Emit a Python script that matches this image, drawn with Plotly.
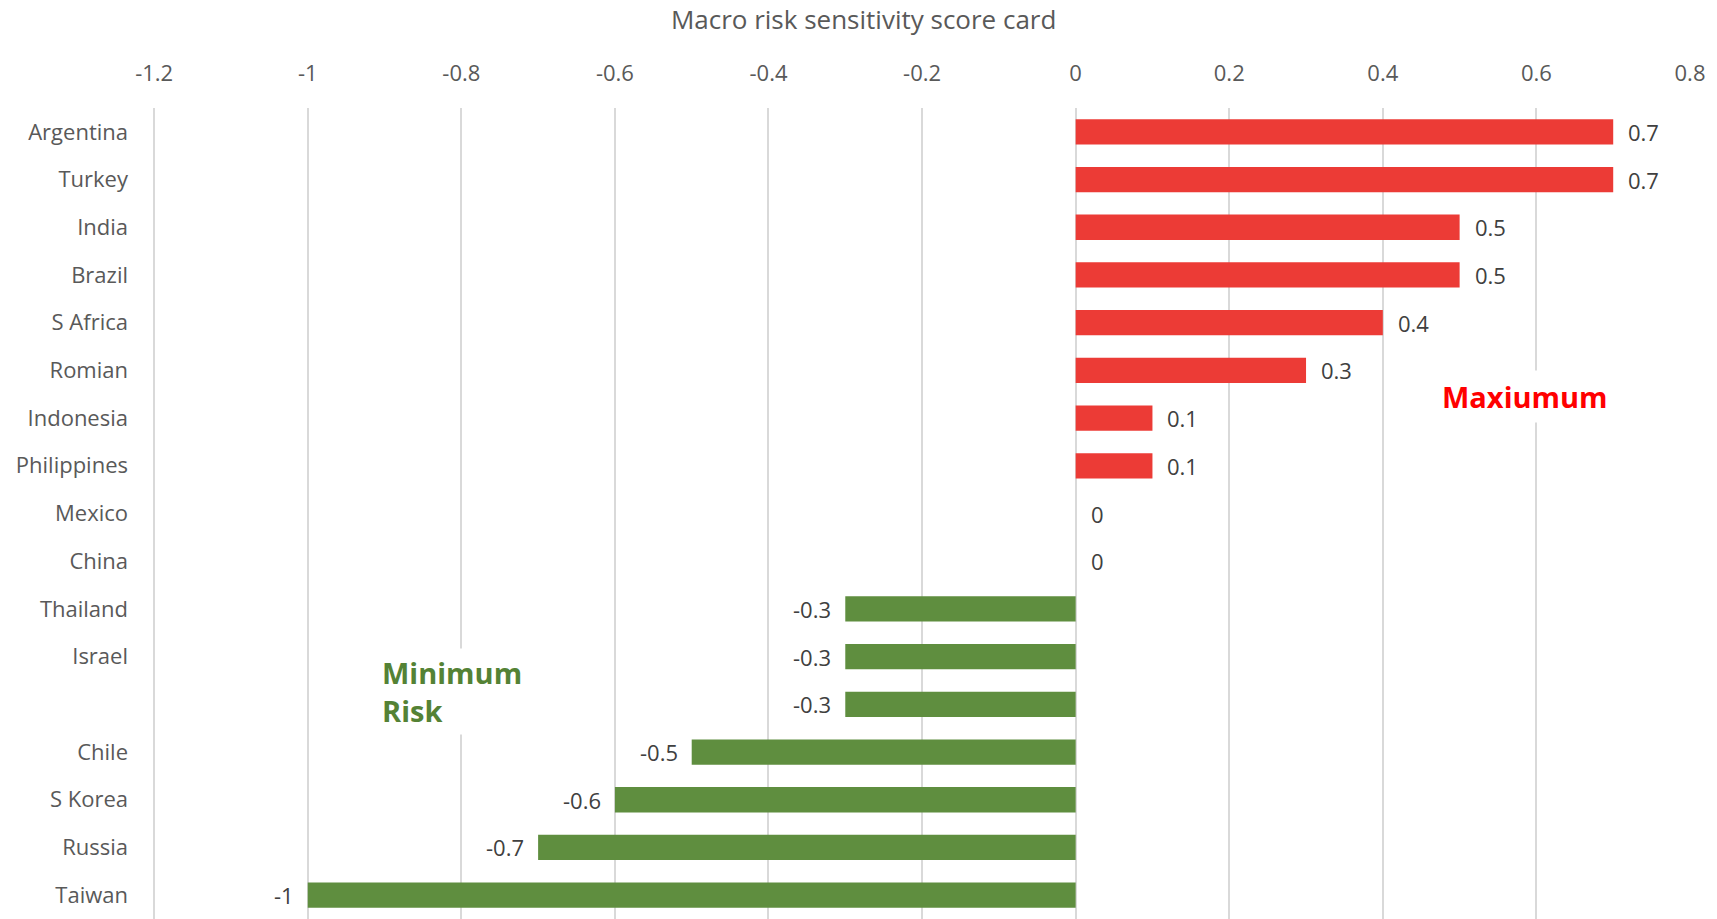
import plotly.graph_objects as go

# Scores per country, top to bottom
countries = ["Argentina", "Turkey", "India", "Brazil", "S Africa", "Romian",
             "Indonesia", "Philippines", "Mexico", "China", "Thailand", "Israel",
             " ", "Chile", "S Korea", "Russia", "Taiwan"]
scores = [0.7, 0.7, 0.5, 0.5, 0.4, 0.3, 0.1, 0.1, 0, 0, -0.3, -0.3, -0.3,
          -0.5, -0.6, -0.7, -1]
tick_vals = [-1.2, -1.0, -0.8, -0.6, -0.4, -0.2, 0, 0.2, 0.4, 0.6, 0.8]
tick_text = ["-1.2", "-1", "-0.8", "-0.6", "-0.4", "-0.2", "0", "0.2", "0.4", "0.6", "0.8"]

RED = "#EC3B36"
GREEN = "#5F8E3F"
FONT = "Open Sans"
GREY = "#595959"

bar_colors = [RED if v > 0 else GREEN for v in scores]

fig = go.Figure()
fig.add_trace(go.Bar(
    x=scores, y=countries, orientation="h",
    marker=dict(color=bar_colors, line=dict(width=0)),
    hoverinfo="x+y",
))

# value labels beside each bar end
for c, v in zip(countries, scores):
    fig.add_annotation(
        x=v, y=c, xref="x", yref="y",
        text=f"{v:g}", showarrow=False,
        xanchor="right" if v < 0 else "left",
        xshift=-12 if v < 0 else 13,
        font=dict(family=FONT, size=22, color="#404040"),
    )

fig.add_annotation(
    x=0.585, y="Romian", xref="x", yref="y", yshift=-26,
    text="<b>Maxiumum</b>", showarrow=False,
    xanchor="center", yanchor="middle",
    bgcolor="white", borderpad=6,
    font=dict(family=FONT, size=29, color="#FF0000"),
)
fig.add_annotation(
    x=-0.91, y="Israel", xref="x", yref="y", yshift=-35,
    text="<b>Minimum<br>Risk</b>", showarrow=False,
    xanchor="left", yanchor="middle", align="left",
    bgcolor="white", borderpad=4,
    font=dict(family=FONT, size=29, color="#548235"),
)

fig.update_layout(
    width=1717, height=919,
    margin=dict(l=153, r=27, t=108, b=0),
    paper_bgcolor="white", plot_bgcolor="white",
    showlegend=False,
    bargap=0.47,
    title=dict(
        text="Macro risk sensitivity score card",
        x=0.503, xref="container", xanchor="center",
        y=0.978, yref="container", yanchor="middle",
        font=dict(family=FONT, size=26, color=GREY),
    ),
    xaxis=dict(
        side="top", range=[-1.2015, 0.8],
        tickvals=tick_vals, ticktext=tick_text,
        showgrid=True, gridcolor="#D9D9D9", gridwidth=1.5,
        zeroline=False, showline=False, ticks="",
        ticklabelstandoff=22,
        tickfont=dict(family=FONT, size=22, color=GREY),
    ),
    yaxis=dict(
        categoryorder="array", categoryarray=countries,
        autorange="reversed",
        showgrid=False, zeroline=False, showline=False, ticks="",
        ticklabelstandoff=24,
        tickfont=dict(family=FONT, size=22, color=GREY),
    ),
)

fig.write_html("out.html")
